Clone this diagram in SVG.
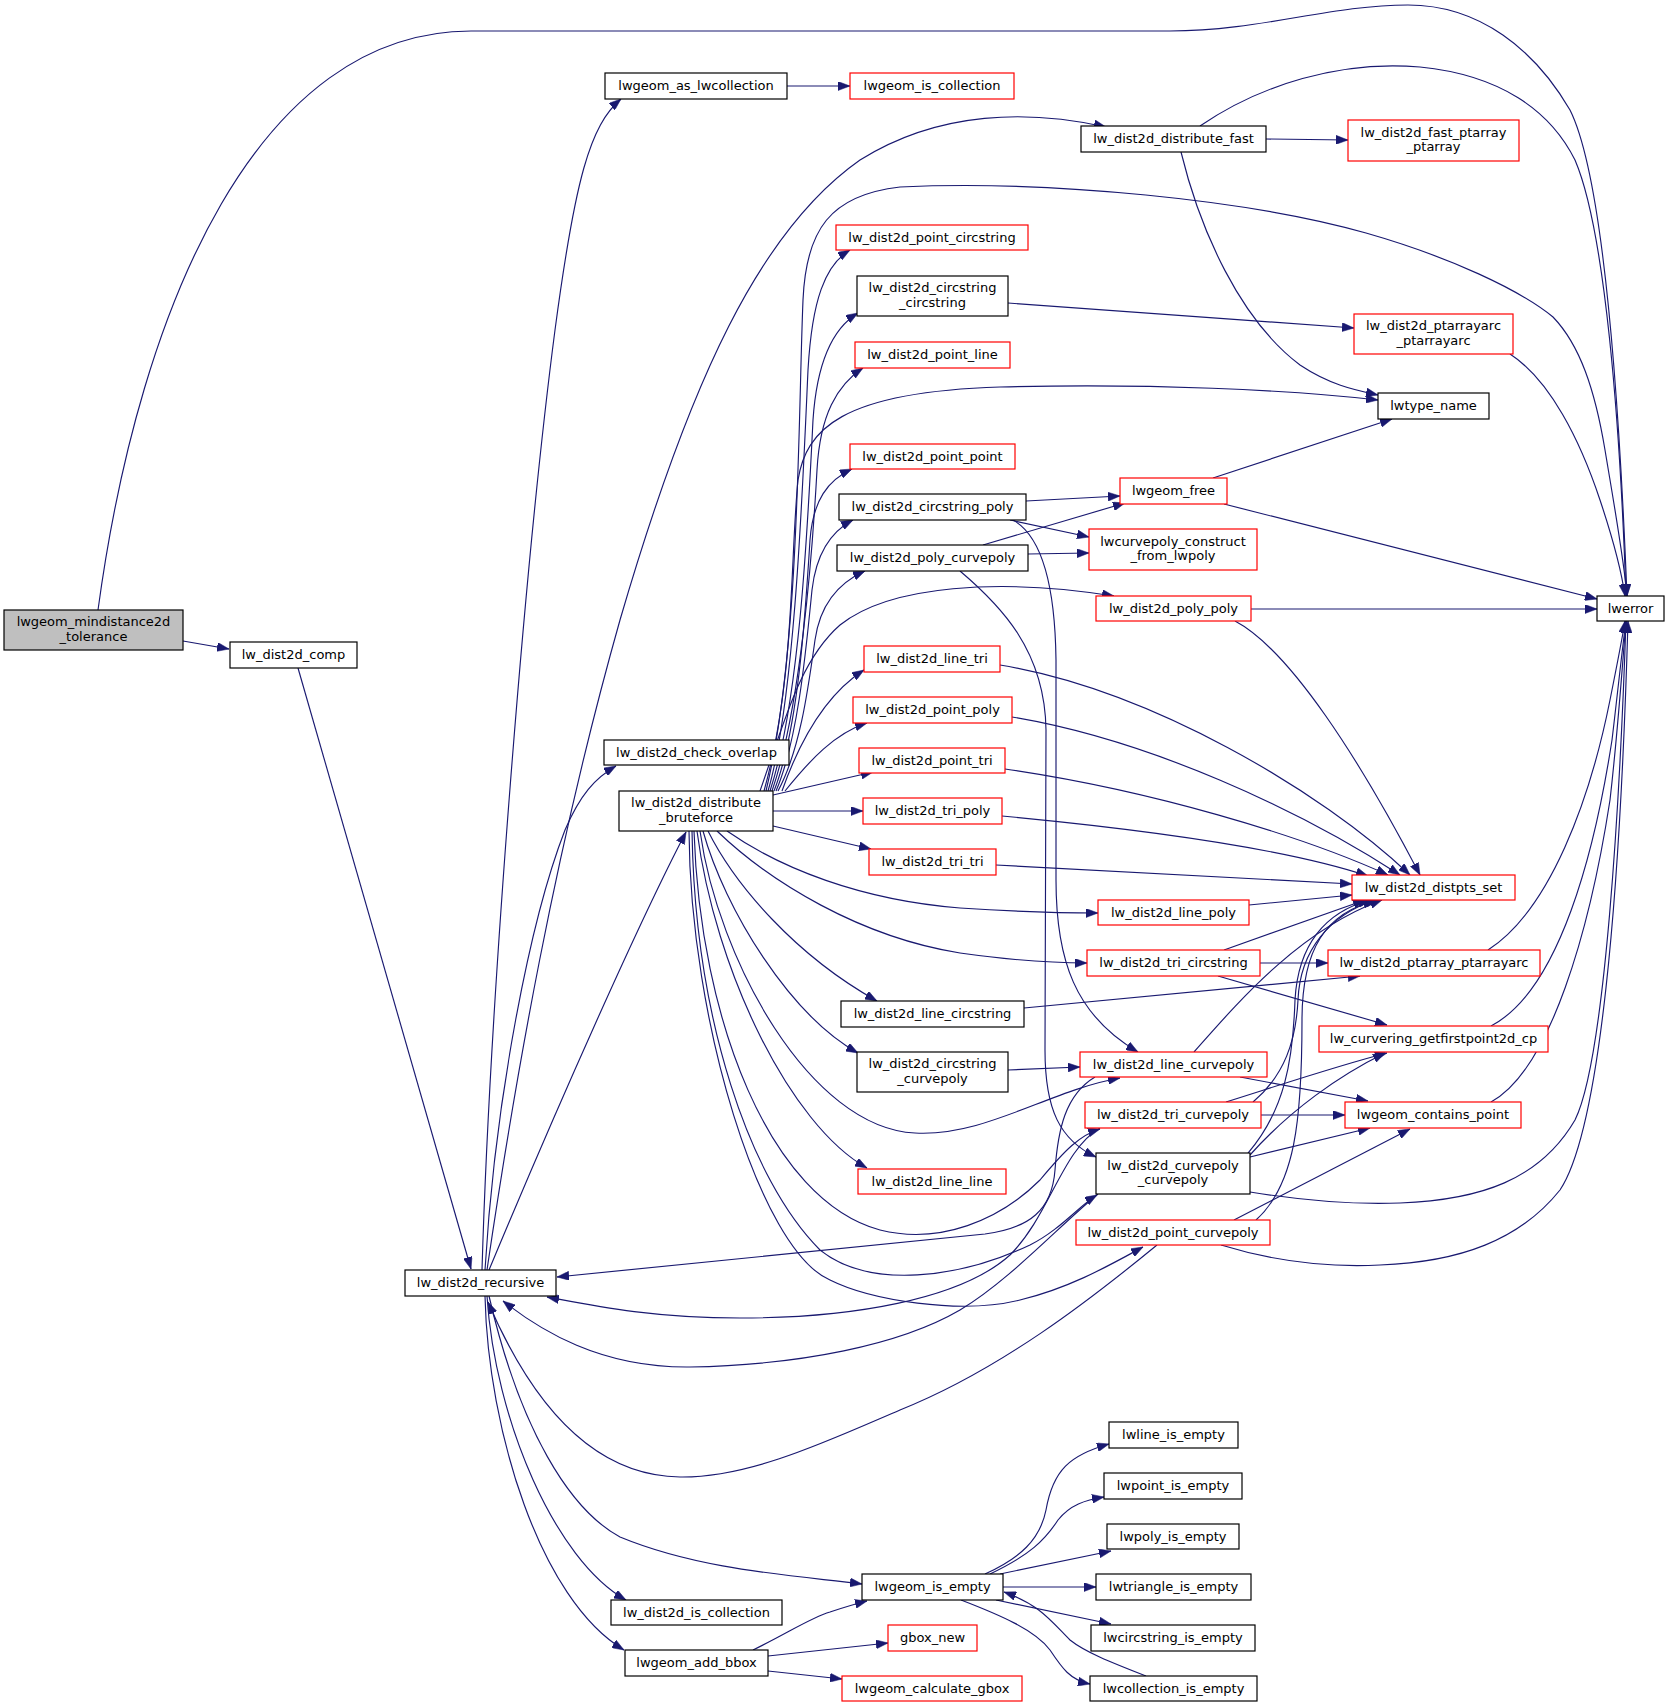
<svg xmlns="http://www.w3.org/2000/svg" width="1669" height="1707" viewBox="0 0 1669 1707">
<style>
.n rect{fill:#fff;stroke:#000;stroke-width:1.2}
.n.r rect{stroke:#ff0000}
.n.g rect{fill:#bfbfbf}
text{font-family:"DejaVu Sans","Liberation Sans",sans-serif;font-size:13px;text-anchor:middle;fill:#000}
.e path{fill:none;stroke:#191970;stroke-width:1.15;marker-end:url(#ah)}
</style>
<defs>
<marker id="ah" markerWidth="12" markerHeight="9" refX="12" refY="4.5" orient="auto" markerUnits="userSpaceOnUse"><path d="M0,0 L12,4.5 L0,9 z" fill="#191970" stroke="#191970" stroke-width="0.5"/></marker>
</defs>
<rect width="1669" height="1707" fill="#fff"/>
<g id="edges" class="e">
<path d="M183,641 L229,649"/>
<path d="M98,610 C140,300 260,31 471,31 L1170,31 C1260,31 1330,5 1408,5 C1480,5 1535,50 1570,110 C1605,180 1620,420 1627,596"/>
<path d="M298,668 L471,1269"/>
<path d="M482,1270 C490,1000 525,560 555,330 C575,180 590,125 621,99"/>
<path d="M487,1270 C515,1080 555,850 620,620 C690,380 760,230 860,160 C940,110 1030,110 1106,127"/>
<path d="M485,1270 C495,1100 530,920 565,830 C580,795 595,778 616,766"/>
<path d="M489,1270 C560,1100 640,920 686,832"/>
<path d="M487,1296 C495,1420 555,1560 626,1600"/>
<path d="M485,1296 C488,1430 540,1600 624,1650"/>
<path d="M489,1296 C520,1430 570,1510 620,1537 C700,1570 790,1575 862,1584"/>
<path d="M1095,1077 C1065,1095 1058,1130 1055,1170 C1052,1210 1030,1228 985,1234 L557,1277"/>
<path d="M1100,1128 C1062,1150 1050,1215 1010,1255 C960,1300 850,1318 740,1318 C650,1318 590,1305 547,1297"/>
<path d="M1098,1194 C1060,1225 1010,1280 960,1310 C900,1345 800,1365 690,1367 C600,1368 540,1330 503,1301"/>
<path d="M1157,1245 C1090,1300 1000,1370 900,1410 C830,1440 750,1478 680,1477 C590,1476 530,1400 488,1302"/>
<path d="M768,791 C795,700 803,480 808,370 C812,300 825,265 850,250"/>
<path d="M770,791 C800,700 808,520 813,420 C817,360 833,328 858,313"/>
<path d="M772,791 C800,710 812,560 817,470 C820,415 837,385 863,368"/>
<path d="M774,791 C798,730 805,620 810,540 C813,500 828,480 852,469"/>
<path d="M776,791 C798,740 806,650 812,590 C816,555 830,532 853,520"/>
<path d="M778,791 C800,750 808,690 815,640 C820,605 838,583 865,571"/>
<path d="M760,791 C785,720 800,660 840,625 C890,585 1000,578 1114,596"/>
<path d="M782,791 C800,740 825,695 864,670"/>
<path d="M785,791 C810,760 835,733 867,723"/>
<path d="M773,795 L873,772"/>
<path d="M773,811 L863,811"/>
<path d="M773,826 L871,849"/>
<path d="M766,791 C800,650 798,420 803,300 C806,230 830,195 900,187 C1050,180 1250,200 1366,233 C1450,257 1520,290 1553,317 C1580,345 1595,390 1605,450 C1615,510 1624,560 1627,596"/>
<path d="M764,791 C795,680 790,560 798,480 C806,430 840,392 1000,387 C1150,383 1290,390 1378,400"/>
<path d="M727,831 C780,868 860,900 960,908 C1020,912 1065,913 1098,913"/>
<path d="M717,831 C770,882 860,937 960,953 C1010,960 1050,963 1087,963"/>
<path d="M708,831 C735,885 795,955 877,1001"/>
<path d="M703,831 C725,910 790,1015 858,1053"/>
<path d="M700,831 C718,960 810,1128 915,1133 C985,1137 1050,1090 1120,1078"/>
<path d="M697,831 C715,970 790,1125 867,1168"/>
<path d="M694,831 C700,1020 770,1200 880,1230 C940,1245 1000,1220 1040,1180 C1065,1150 1080,1135 1100,1129"/>
<path d="M692,831 C695,1020 750,1180 820,1250 C870,1290 960,1278 1030,1245 C1060,1230 1080,1205 1097,1195"/>
<path d="M689,831 C690,1020 760,1250 830,1280 C870,1300 960,1315 1020,1300 C1070,1288 1110,1265 1143,1247"/>
<path d="M787,86 L850,86"/>
<path d="M1266,139 L1348,140"/>
<path d="M1200,126 C1260,85 1340,60 1420,67 C1500,75 1550,110 1575,160 C1605,230 1620,420 1626,596"/>
<path d="M1181,152 C1200,230 1240,320 1300,365 C1330,385 1355,390 1378,395"/>
<path d="M1008,303 L1354,328"/>
<path d="M1510,354 C1550,380 1580,440 1600,500 C1615,545 1622,575 1625,596"/>
<path d="M1026,501 L1120,496"/>
<path d="M1010,520 L1089,537"/>
<path d="M983,545 L1125,503"/>
<path d="M1028,554 L1089,553"/>
<path d="M1013,520 C1040,535 1055,580 1056,660 L1056,880 C1056,960 1075,1015 1138,1052"/>
<path d="M960,571 C1000,605 1045,650 1046,730 L1045,1050 C1045,1110 1060,1140 1096,1157"/>
<path d="M1213,478 L1392,419"/>
<path d="M1224,504 L1597,599"/>
<path d="M1251,609 L1597,609"/>
<path d="M1235,621 C1290,650 1360,760 1420,875"/>
<path d="M1000,665 C1150,690 1320,790 1410,875"/>
<path d="M1012,717 C1150,740 1300,810 1400,875"/>
<path d="M1005,769 C1150,790 1300,835 1388,875"/>
<path d="M1002,816 C1150,830 1290,850 1368,876"/>
<path d="M996,865 L1352,884"/>
<path d="M1249,905 L1352,895"/>
<path d="M1224,950 L1365,900"/>
<path d="M1260,963 L1328,963"/>
<path d="M1218,976 L1387,1025"/>
<path d="M1488,950 C1550,910 1590,800 1610,700 C1618,660 1622,640 1625,621"/>
<path d="M1024,1008 L1360,976"/>
<path d="M1491,1026 C1560,990 1595,850 1612,740 C1618,690 1622,650 1626,621"/>
<path d="M1008,1070 L1080,1067"/>
<path d="M1194,1052 C1240,1000 1300,930 1382,900"/>
<path d="M1240,1077 L1368,1101"/>
<path d="M1261,1115 L1345,1115"/>
<path d="M1226,1102 C1280,1085 1340,1065 1387,1053"/>
<path d="M1253,1102 C1285,1075 1296,1040 1298,1000 C1300,950 1330,915 1375,900"/>
<path d="M1248,1153 C1285,1110 1293,1060 1295,1000 C1298,945 1325,912 1370,900"/>
<path d="M1256,1220 C1295,1185 1302,1120 1302,1020 C1302,950 1325,912 1378,900"/>
<path d="M1250,1155 C1290,1110 1340,1075 1385,1053"/>
<path d="M1250,1157 L1370,1128"/>
<path d="M1250,1192 C1300,1200 1350,1205 1400,1203 C1480,1200 1540,1180 1575,1120 C1605,1060 1620,800 1626,621"/>
<path d="M1234,1220 L1410,1129"/>
<path d="M1221,1245 C1270,1260 1320,1268 1380,1265 C1460,1262 1520,1240 1560,1190 C1600,1130 1620,900 1628,621"/>
<path d="M1491,1102 C1550,1070 1590,930 1610,800 C1618,730 1622,670 1626,621"/>
<path d="M753,1650 C790,1632 810,1618 830,1612 C845,1607 855,1604 867,1601"/>
<path d="M768,1656 L888,1643"/>
<path d="M768,1671 L842,1679"/>
<path d="M985,1574 C1020,1558 1040,1540 1046,1510 C1053,1470 1070,1455 1109,1444"/>
<path d="M990,1574 C1030,1555 1045,1540 1058,1520 C1070,1505 1085,1500 1104,1497"/>
<path d="M1000,1574 L1111,1551"/>
<path d="M1003,1587 L1096,1587"/>
<path d="M996,1600 L1111,1624"/>
<path d="M961,1600 C1000,1615 1035,1630 1050,1650 C1062,1668 1070,1680 1090,1684"/>
<path d="M1146,1676 C1110,1662 1085,1652 1070,1640 C1050,1620 1040,1605 1004,1592"/>
</g>
<g id="n_lwgeom_mindistance2d_tolerance" class="n g"><rect x="4" y="610" width="179" height="40"/><text x="93.5" y="626">lwgeom_mindistance2d</text><text x="93.5" y="640.5">_tolerance</text></g>
<g id="n_lw_dist2d_comp" class="n"><rect x="230" y="642" width="127" height="26"/><text x="293.5" y="659">lw_dist2d_comp</text></g>
<g id="n_lw_dist2d_recursive" class="n"><rect x="405" y="1270" width="151" height="26"/><text x="480.5" y="1287">lw_dist2d_recursive</text></g>
<g id="n_lwgeom_as_lwcollection" class="n"><rect x="605" y="73" width="182" height="26"/><text x="696" y="90">lwgeom_as_lwcollection</text></g>
<g id="n_lw_dist2d_check_overlap" class="n"><rect x="604" y="740" width="185" height="25"/><text x="696.5" y="756.5">lw_dist2d_check_overlap</text></g>
<g id="n_lw_dist2d_distribute_bruteforce" class="n"><rect x="619" y="791" width="154" height="40"/><text x="696" y="807">lw_dist2d_distribute</text><text x="696" y="821.5">_bruteforce</text></g>
<g id="n_lw_dist2d_is_collection" class="n"><rect x="611" y="1600" width="171" height="25"/><text x="696.5" y="1616.5">lw_dist2d_is_collection</text></g>
<g id="n_lwgeom_add_bbox" class="n"><rect x="625" y="1650" width="143" height="26"/><text x="696.5" y="1667">lwgeom_add_bbox</text></g>
<g id="n_lwgeom_is_empty" class="n"><rect x="862" y="1574" width="141" height="26"/><text x="932.5" y="1591">lwgeom_is_empty</text></g>
<g id="n_lwgeom_is_collection" class="n r"><rect x="850" y="73" width="164" height="26"/><text x="932" y="90">lwgeom_is_collection</text></g>
<g id="n_lw_dist2d_distribute_fast" class="n"><rect x="1081" y="126" width="185" height="26"/><text x="1173.5" y="143">lw_dist2d_distribute_fast</text></g>
<g id="n_lw_dist2d_fast_ptarray_ptarray" class="n r"><rect x="1348" y="120" width="171" height="41"/><text x="1433.5" y="136.5">lw_dist2d_fast_ptarray</text><text x="1433.5" y="151">_ptarray</text></g>
<g id="n_lw_dist2d_point_circstring" class="n r"><rect x="836" y="225" width="192" height="25"/><text x="932" y="241.5">lw_dist2d_point_circstring</text></g>
<g id="n_lw_dist2d_circstring_circstring" class="n"><rect x="857" y="276" width="151" height="40"/><text x="932.5" y="292">lw_dist2d_circstring</text><text x="932.5" y="306.5">_circstring</text></g>
<g id="n_lw_dist2d_ptarrayarc_ptarrayarc" class="n r"><rect x="1354" y="314" width="159" height="40"/><text x="1433.5" y="330">lw_dist2d_ptarrayarc</text><text x="1433.5" y="344.5">_ptarrayarc</text></g>
<g id="n_lw_dist2d_point_line" class="n r"><rect x="855" y="342" width="155" height="26"/><text x="932.5" y="359">lw_dist2d_point_line</text></g>
<g id="n_lwtype_name" class="n"><rect x="1378" y="393" width="111" height="26"/><text x="1433.5" y="410">lwtype_name</text></g>
<g id="n_lw_dist2d_point_point" class="n r"><rect x="850" y="444" width="165" height="25"/><text x="932.5" y="460.5">lw_dist2d_point_point</text></g>
<g id="n_lw_dist2d_circstring_poly" class="n"><rect x="839" y="494" width="187" height="26"/><text x="932.5" y="511">lw_dist2d_circstring_poly</text></g>
<g id="n_lwgeom_free" class="n r"><rect x="1120" y="478" width="107" height="26"/><text x="1173.5" y="495">lwgeom_free</text></g>
<g id="n_lwcurvepoly_construct_from_lwpoly" class="n r"><rect x="1089" y="529" width="168" height="41"/><text x="1173" y="545.5">lwcurvepoly_construct</text><text x="1173" y="560">_from_lwpoly</text></g>
<g id="n_lw_dist2d_poly_curvepoly" class="n"><rect x="837" y="545" width="191" height="26"/><text x="932.5" y="562">lw_dist2d_poly_curvepoly</text></g>
<g id="n_lw_dist2d_poly_poly" class="n r"><rect x="1096" y="596" width="155" height="25"/><text x="1173.5" y="612.5">lw_dist2d_poly_poly</text></g>
<g id="n_lwerror" class="n"><rect x="1597" y="596" width="67" height="25"/><text x="1630.5" y="612.5">lwerror</text></g>
<g id="n_lw_dist2d_line_tri" class="n r"><rect x="864" y="646" width="136" height="26"/><text x="932" y="663">lw_dist2d_line_tri</text></g>
<g id="n_lw_dist2d_point_poly" class="n r"><rect x="853" y="697" width="159" height="26"/><text x="932.5" y="714">lw_dist2d_point_poly</text></g>
<g id="n_lw_dist2d_point_tri" class="n r"><rect x="859" y="748" width="146" height="25"/><text x="932" y="764.5">lw_dist2d_point_tri</text></g>
<g id="n_lw_dist2d_tri_poly" class="n r"><rect x="863" y="798" width="139" height="26"/><text x="932.5" y="815">lw_dist2d_tri_poly</text></g>
<g id="n_lw_dist2d_tri_tri" class="n r"><rect x="869" y="849" width="127" height="26"/><text x="932.5" y="866">lw_dist2d_tri_tri</text></g>
<g id="n_lw_dist2d_distpts_set" class="n r"><rect x="1352" y="875" width="163" height="25"/><text x="1433.5" y="891.5">lw_dist2d_distpts_set</text></g>
<g id="n_lw_dist2d_line_poly" class="n r"><rect x="1098" y="900" width="151" height="25"/><text x="1173.5" y="916.5">lw_dist2d_line_poly</text></g>
<g id="n_lw_dist2d_tri_circstring" class="n r"><rect x="1087" y="950" width="173" height="26"/><text x="1173.5" y="967">lw_dist2d_tri_circstring</text></g>
<g id="n_lw_dist2d_ptarray_ptarrayarc" class="n r"><rect x="1328" y="950" width="212" height="26"/><text x="1434" y="967">lw_dist2d_ptarray_ptarrayarc</text></g>
<g id="n_lw_dist2d_line_circstring" class="n"><rect x="841" y="1001" width="183" height="26"/><text x="932.5" y="1018">lw_dist2d_line_circstring</text></g>
<g id="n_lw_curvering_getfirstpoint2d_cp" class="n r"><rect x="1319" y="1026" width="229" height="26"/><text x="1433.5" y="1043">lw_curvering_getfirstpoint2d_cp</text></g>
<g id="n_lw_dist2d_circstring_curvepoly" class="n"><rect x="857" y="1052" width="151" height="40"/><text x="932.5" y="1068">lw_dist2d_circstring</text><text x="932.5" y="1082.5">_curvepoly</text></g>
<g id="n_lw_dist2d_line_curvepoly" class="n r"><rect x="1080" y="1052" width="187" height="25"/><text x="1173.5" y="1068.5">lw_dist2d_line_curvepoly</text></g>
<g id="n_lw_dist2d_tri_curvepoly" class="n r"><rect x="1085" y="1102" width="176" height="26"/><text x="1173" y="1119">lw_dist2d_tri_curvepoly</text></g>
<g id="n_lwgeom_contains_point" class="n r"><rect x="1345" y="1102" width="176" height="26"/><text x="1433" y="1119">lwgeom_contains_point</text></g>
<g id="n_lw_dist2d_curvepoly_curvepoly" class="n"><rect x="1096" y="1153" width="154" height="41"/><text x="1173" y="1169.5">lw_dist2d_curvepoly</text><text x="1173" y="1184">_curvepoly</text></g>
<g id="n_lw_dist2d_line_line" class="n r"><rect x="858" y="1169" width="148" height="25"/><text x="932" y="1185.5">lw_dist2d_line_line</text></g>
<g id="n_lw_dist2d_point_curvepoly" class="n r"><rect x="1076" y="1220" width="194" height="25"/><text x="1173" y="1236.5">lw_dist2d_point_curvepoly</text></g>
<g id="n_lwline_is_empty" class="n"><rect x="1109" y="1422" width="129" height="26"/><text x="1173.5" y="1439">lwline_is_empty</text></g>
<g id="n_lwpoint_is_empty" class="n"><rect x="1104" y="1473" width="138" height="26"/><text x="1173" y="1490">lwpoint_is_empty</text></g>
<g id="n_lwpoly_is_empty" class="n"><rect x="1107" y="1524" width="132" height="25"/><text x="1173" y="1540.5">lwpoly_is_empty</text></g>
<g id="n_lwtriangle_is_empty" class="n"><rect x="1096" y="1574" width="155" height="26"/><text x="1173.5" y="1591">lwtriangle_is_empty</text></g>
<g id="n_lwcircstring_is_empty" class="n"><rect x="1091" y="1625" width="164" height="26"/><text x="1173" y="1642">lwcircstring_is_empty</text></g>
<g id="n_lwcollection_is_empty" class="n"><rect x="1090" y="1676" width="167" height="25"/><text x="1173.5" y="1692.5">lwcollection_is_empty</text></g>
<g id="n_gbox_new" class="n r"><rect x="888" y="1625" width="89" height="26"/><text x="932.5" y="1642">gbox_new</text></g>
<g id="n_lwgeom_calculate_gbox" class="n r"><rect x="842" y="1676" width="180" height="25"/><text x="932" y="1692.5">lwgeom_calculate_gbox</text></g>
</svg>
